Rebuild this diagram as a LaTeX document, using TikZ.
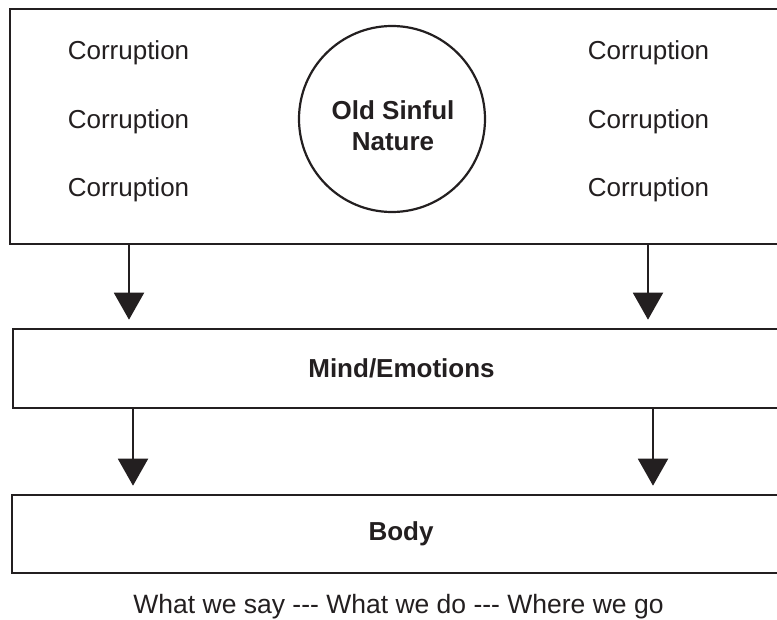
\documentclass[tikz,border=0pt]{standalone}
\usepackage{fontspec}
\setmainfont{Liberation Sans}
\usetikzlibrary{arrows.meta}
\definecolor{ink}{HTML}{231F20}
\begin{document}
\begin{tikzpicture}[x=1pt,y=-1pt,
  box/.style={draw=ink,line width=2.6pt,rectangle,inner sep=0pt,text=ink},
  arr/.style={draw=ink,line width=2pt,-{Triangle[width=30pt,length=27pt]},shorten >=8pt},
  reg/.style={text=ink,font=\fontsize{26}{31}\selectfont,inner sep=0pt},
  bld/.style={text=ink,font=\fontsize{26}{31}\selectfont\bfseries,inner sep=0pt}]
\clip (0,0) rectangle (777,620);
\fill[white] (0,0) rectangle (777,620);
% boxes
\node[box,minimum width=780pt,minimum height=235pt] (top) at (400,126.5) {};
\node[box,minimum width=777pt,minimum height=79pt,bld] (mind) at (401.5,368.5) {Mind/Emotions};
\node[box,minimum width=778pt,minimum height=78pt,bld] (body) at (401,534) {Body};
% circle
\node[draw=ink,line width=2.2pt,circle,minimum size=186pt,inner sep=0pt] (osn) at (392,119) {};
\node[bld,align=center] (osntext) at (393,126) {Old Sinful\\Nature};
% corruption labels
\node[reg,anchor=base] (l1) at (128.5,60) {Corruption};
\node[reg,anchor=base] (l2) at (128.5,129) {Corruption};
\node[reg,anchor=base] (l3) at (128.5,197) {Corruption};
\node[reg,anchor=base] (r1) at (648.5,60) {Corruption};
\node[reg,anchor=base] (r2) at (648.5,129) {Corruption};
\node[reg,anchor=base] (r3) at (648.5,197) {Corruption};
% arrows
\coordinate (xa) at (129,0);
\coordinate (xb) at (648,0);
\coordinate (xc) at (133,0);
\coordinate (xd) at (653,0);
\draw[arr] (top.south -| xa) -- (mind.north -| xa);
\draw[arr] (top.south -| xb) -- (mind.north -| xb);
\draw[arr] (mind.south -| xc) -- (body.north -| xc);
\draw[arr] (mind.south -| xd) -- (body.north -| xd);
% bottom caption
\node[text=ink,font=\fontsize{26.5}{31}\selectfont,inner sep=0pt,anchor=base] (cap) at (398.5,613) {What we say -{}-{}- What we do -{}-{}- Where we go};
\end{tikzpicture}
\end{document}
